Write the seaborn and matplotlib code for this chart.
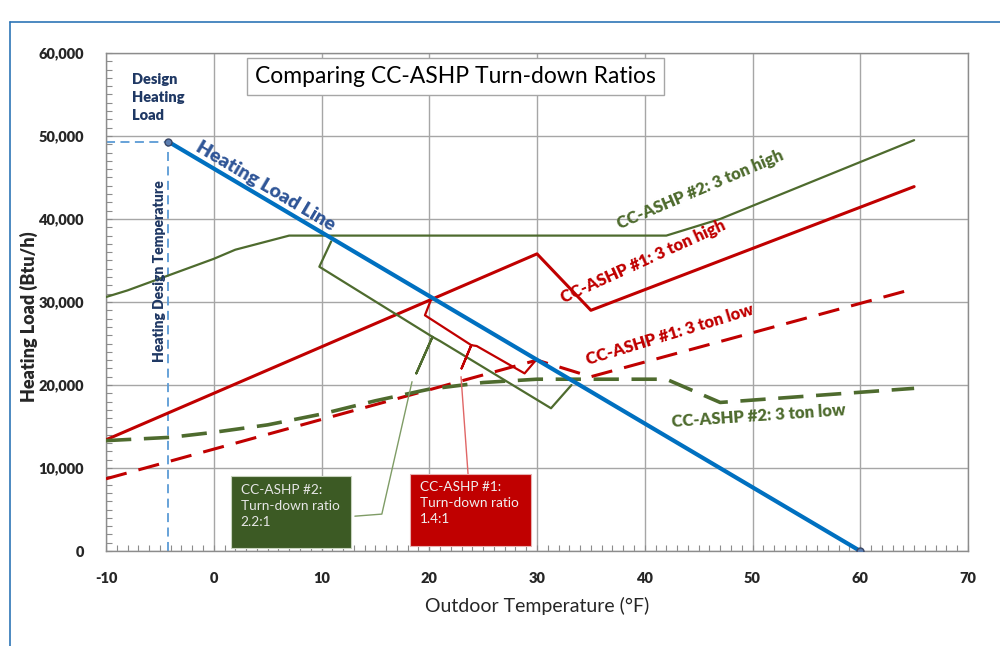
import numpy as np
import matplotlib.pyplot as plt
import matplotlib.ticker as mticker
from matplotlib.lines import Line2D
from matplotlib.patches import Rectangle
import seaborn as sns
import pandas as pd

# =====================================================================
# DATOS
# =====================================================================

load_temp = [-4.2, 60]
load_btu = [49300, 0]

hp2_high_temp = [-10, -8, -4, 0, 2, 7, 42, 47, 65]
hp2_high_btu = [30600, 31400, 33300, 35200, 36300, 38000, 38000, 40000, 49500]

hp1_high_temp = [-10, 30, 35, 65]
hp1_high_btu = [13400, 35800, 29000, 43900]

hp1_low_temp = [-10, 30, 35, 65]
hp1_low_btu = [8700, 23000, 21000, 31600]

hp2_low_temp = [-10, -4, 0, 5, 10, 15, 20, 25, 30, 42, 47, 65]
hp2_low_btu = [13300, 13700, 14300, 15200, 16500, 18100, 19500, 20300, 20700, 20700, 17900, 19600]

x_ticks = list(range(-10, 71, 10))
y_ticks = list(range(0, 60001, 10000))

RED = "#C00000"
GREEN = "#4E6B2E"
GREEN_BOX = "#3C5A24"
BLUE = "#0070C0"
NAVY = "#1F3864"
HEAVY = 800

# =====================================================================
# FIGURA
# =====================================================================

sns.set_theme(style="white")
plt.rcParams["font.family"] = ["Lato", "DejaVu Sans"]
plt.rcParams["axes.unicode_minus"] = False

fig = plt.figure(figsize=(10, 6.46), dpi=100)
ax = fig.add_axes([0.106, 0.147, 0.862, 0.771])

sns.lineplot(x=hp2_high_temp, y=hp2_high_btu, ax=ax, color=GREEN, lw=1.6, zorder=3)
sns.lineplot(x=hp1_high_temp, y=hp1_high_btu, ax=ax, color=RED, lw=2.2, zorder=3)
sns.lineplot(x=hp1_low_temp, y=hp1_low_btu, ax=ax, color=RED, lw=2.2,
             linestyle=(0, (7, 4)), zorder=3)
sns.lineplot(x=hp2_low_temp, y=hp2_low_btu, ax=ax, color=GREEN, lw=2.6,
             linestyle=(0, (7, 3.5)), zorder=3)

# líneas de diseño
ax.plot([-10, load_temp[0]], [load_btu[0], load_btu[0]], color="#5B9BD5", lw=1.3,
        linestyle=(0, (5, 3)), zorder=2)
ax.plot([load_temp[0], load_temp[0]], [0, load_btu[0]], color="#5B9BD5", lw=1.3,
        linestyle=(0, (5, 3)), zorder=2)

sns.lineplot(x=load_temp, y=load_btu, ax=ax, color=BLUE, lw=3, zorder=5)
ax.plot(load_temp, load_btu, "o", ms=5, mfc="#5B7DB1", mec="#3A4766", mew=1, zorder=6)

# llaves de turn-down
ax.plot([10.9, 9.8, 20.3, 18.8, 20.3, 21.0, 31.3, 33.2],
        [37300, 34250, 25800, 21400, 25800, 25300, 17200, 20000],
        color=GREEN, lw=1.6, zorder=4)
ax.plot([20.2, 19.6, 23.9, 23.0, 23.9, 24.4, 28.85, 29.9],
        [30400, 28400, 24800, 22000, 24800, 24700, 21400, 23000],
        color=RED, lw=1.6, zorder=4)

# líneas guía hacia las cajas
ax.plot([13.1, 15.6, 18.4], [4200, 4450, 20400], color="#7F9C66", lw=1, zorder=4)
ax.plot([22.95, 23.6], [21000, 9300], color="#E06666", lw=1, zorder=4)

ax.add_patch(Rectangle((1.64, 360), 11.1, 8680, facecolor=GREEN_BOX,
                       edgecolor="#C8D3BE", lw=0.8, zorder=6))
ax.add_patch(Rectangle((18.25, 600), 11.15, 8680, facecolor=RED,
                       edgecolor="#E8B0B0", lw=0.8, zorder=6))
ax.text(2.5, 8100, "CC-ASHP #2:\nTurn-down ratio\n2.2:1", color="#E6E6E6",
        fontsize=9.8, va="top", ha="left", linespacing=1.4, zorder=7)
ax.text(19.1, 8400, "CC-ASHP #1:\nTurn-down ratio\n1.4:1", color="#F0F0F0",
        fontsize=9.8, va="top", ha="left", linespacing=1.4, zorder=7)

# textos
ax.text(22.4, 57200, "Comparing CC-ASHP Turn-down Ratios", fontsize=16.5,
        ha="center", va="center", color="black", zorder=7,
        bbox=dict(boxstyle="square,pad=0.35", fc="white", ec="#A6A6A6", lw=1))
ax.text(-7.6, 57600, "Design\nHeating\nLoad", color=NAVY, fontsize=10.5,
        fontweight=HEAVY, ha="left", va="top", linespacing=1.45)
ax.text(-5.0, 33700, "Heating Design Temperature", color=NAVY, fontsize=10,
        fontweight=HEAVY, rotation=90, ha="center", va="center")
ax.text(4.8, 44000, "Heating Load Line", color="#2F5597", fontsize=14,
        fontweight=HEAVY, rotation=-30.6, ha="center", va="center",
        rotation_mode="anchor", zorder=7)
ax.text(45.2, 43500, "CC-ASHP #2: 3 ton high", color=GREEN, fontsize=12,
        fontweight=HEAVY, rotation=23, ha="center", va="center", rotation_mode="anchor")
ax.text(39.9, 34900, "CC-ASHP #1: 3 ton high", color=RED, fontsize=12,
        fontweight=HEAVY, rotation=24.5, ha="center", va="center", rotation_mode="anchor")
ax.text(42.3, 26000, "CC-ASHP #1: 3 ton low", color=RED, fontsize=12,
        fontweight=HEAVY, rotation=17, ha="center", va="center", rotation_mode="anchor")
ax.text(50.6, 16300, "CC-ASHP #2: 3 ton low", color=GREEN, fontsize=12,
        fontweight=HEAVY, rotation=3.9, ha="center", va="center", rotation_mode="anchor")

# ejes
ax.set_xlim(-10, 70)
ax.set_ylim(0, 60000)
ax.set_xticks(x_ticks)
ax.set_yticks(y_ticks)
ax.xaxis.set_minor_locator(mticker.MultipleLocator(1))
ax.yaxis.set_minor_locator(mticker.MultipleLocator(1000))
ax.yaxis.set_major_formatter(mticker.FuncFormatter(lambda v, p: f"{v:,.0f}"))
ax.grid(True, which="major", color="#A6A6A6", lw=1)
ax.tick_params(which="both", direction="in", length=4, color="#8C8C8C", width=0.8,
               bottom=True, left=True)
ax.tick_params(axis="x", which="major", pad=15, labelsize=10.5)
ax.tick_params(axis="y", which="major", pad=16, labelsize=10.5)
for lab in ax.get_xticklabels() + ax.get_yticklabels():
    lab.set_fontweight(HEAVY)
for s in ax.spines.values():
    s.set_color("#8C8C8C")
    s.set_linewidth(1)

ax.set_xlabel("Outdoor Temperature (°F)", fontsize=14, labelpad=9)
ax.set_ylabel("Heating Load (Btu/h)", fontsize=13, fontweight=HEAVY)
ax.yaxis.set_label_coords(-0.079, 0.47)

# marco azul
fig.add_artist(Line2D([0.01, 1.0], [0.966, 0.966], color="#2E75B6", lw=1.2))
fig.add_artist(Line2D([0.01, 0.01], [0.0, 0.966], color="#2E75B6", lw=1.2))

plt.savefig("out.png", dpi=100)
